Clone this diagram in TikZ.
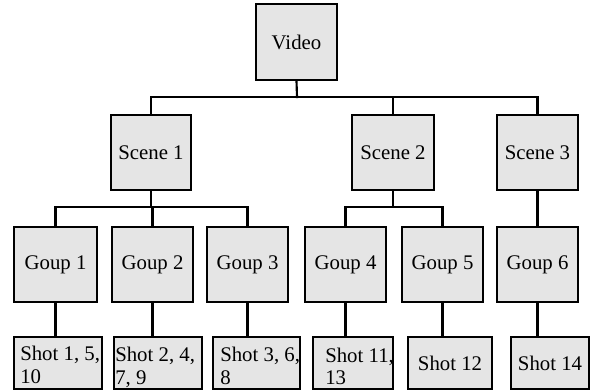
\documentclass[tikz,border=0pt]{standalone}
\usepackage{fontspec}
\setmainfont{Liberation Serif}
\begin{document}
\begin{tikzpicture}[x=0.75pt, y=-0.75pt,
  box/.style={draw=black, line width=1.6pt, fill=black!10, inner sep=0pt,
              font=\fontsize{15.6pt}{17pt}\selectfont},
  sz/.style 2 args={minimum width=#1*0.75pt, minimum height=#2*0.75pt},
  shottext/.style={anchor=north west, inner sep=0pt, align=left,
              font=\fontsize{15.6pt}{17pt}\selectfont},
  link/.style={line width=1.6pt, line cap=rect}]
\useasboundingbox (0,0) rectangle (591,391);

% root
\node[box, sz={81}{76}] (video) at (296.5,42) {Video};

% scenes
\node[box, sz={80}{75}] (sc1) at (151,152.5)   {Scene 1};
\node[box, sz={82}{75}] (sc2) at (393,152.5)   {Scene 2};
\node[box, sz={81}{75}] (sc3) at (537.5,152.5) {Scene 3};

% groups
\node[box, sz={83}{75}] (g1) at (55.5,264.5)  {Goup 1};
\node[box, sz={81}{75}] (g2) at (152.5,264.5) {Goup 2};
\node[box, sz={81}{75}] (g3) at (247.5,264.5) {Goup 3};
\node[box, sz={81}{75}] (g4) at (345.5,264.5) {Goup 4};
\node[box, sz={81}{75}] (g5) at (442.5,264.5) {Goup 5};
\node[box, sz={81}{75}] (g6) at (537.5,264.5) {Goup 6};

% shots
\node[box, sz={88}{52}] (s1) at (58,363)    {};
\node[box, sz={88}{52}] (s2) at (158,363)   {};
\node[box, sz={87}{52}] (s3) at (256.5,363) {};
\node[box, sz={80}{52}] (s4) at (353,363)   {};
\node[box, sz={84}{52}] (s5) at (450,363)   {Shot 12};
\node[box, sz={78}{52}] (s6) at (550,363)   {Shot 14};

\node[shottext] (t1) at (20,346)    {Shot 1, 5,\\10};
\node[shottext] (t2) at (115,347)   {Shot 2, 4,\\7, 9};
\node[shottext] (t3) at (220,347)   {Shot 3, 6,\\8};
\node[shottext] (t4) at (325,347.5) {Shot 11,\\13};

% bus lines
\coordinate (bus0) at (297,97);
\coordinate (bus1) at (152,207);
\coordinate (bus2) at (393,207);

\draw[link] (video.south) -- (bus0);
\draw[link] (sc1.north) |- (bus0) -| (sc3.north);
\draw[link] (sc2.north) -- (sc2.north |- bus0);

\draw[link] (sc1.south) -- (sc1.south |- bus1);
\draw[link] (g1.north) |- (bus1) -| (g3.north);
\draw[link] (g2.north) -- (g2.north |- bus1);

\draw[link] (sc2.south) -- (sc2.south |- bus2);
\draw[link] (g4.north) |- (bus2) -| (g5.north);

\draw[link] (sc3.south) -- (g6.north);

% groups to shots
\draw[link] (g1.south) -- (g1.south |- s1.north);
\draw[link] (g2.south) -- (g2.south |- s2.north);
\draw[link] (g3.south) -- (g3.south |- s3.north);
\draw[link] (g4.south) -- (g4.south |- s4.north);
\draw[link] (g5.south) -- (g5.south |- s5.north);
\draw[link] (g6.south) -- (g6.south |- s6.north);
\end{tikzpicture}
\end{document}
